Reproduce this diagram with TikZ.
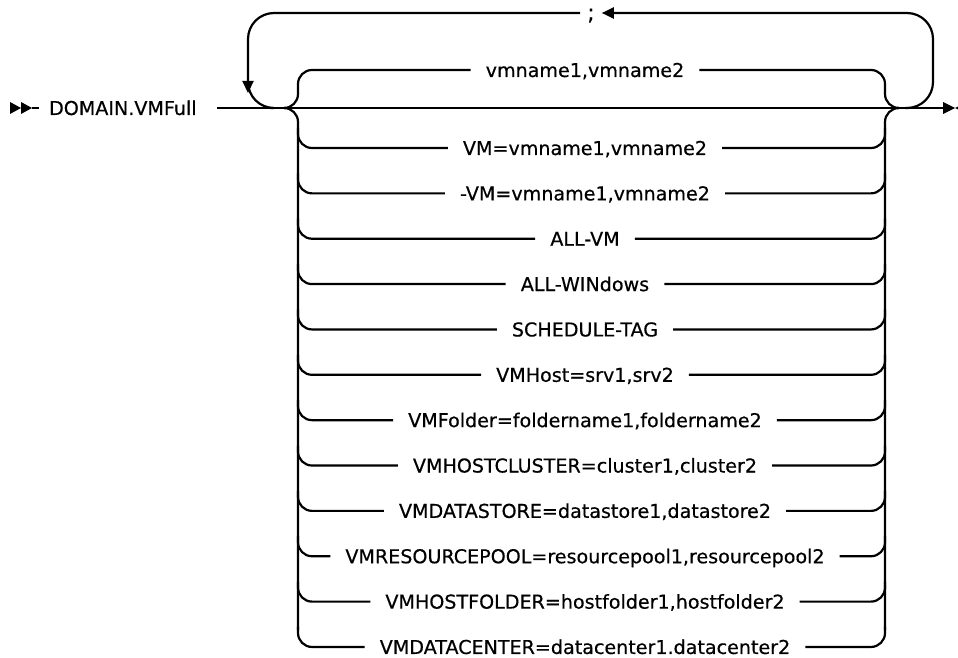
\documentclass[tikz,border=0pt]{standalone}
\usepackage{fontspec}
\setmainfont{DejaVu Sans}[FakeBold=0.5]
\usetikzlibrary{arrows.meta, positioning, calc}
\tikzset{
  rail/.style={line width=1.1pt, rounded corners=7pt},
  kw/.style={inner xsep=7pt, inner ysep=0pt, text height=7pt, text depth=0pt,
    font=\fontsize{9.55}{11}\selectfont},
  tip/.style={-{Triangle[length=6pt, width=5.5pt]}}
}

\begin{document}
\begin{tikzpicture}[x=0.5pt, y=-0.5pt, line width=1.1pt]

    \useasboundingbox (0,0) rectangle (958,658);
    \clip (0,0) rectangle (958,658);

    % Start of the statement
    \fill (10,102) -- (21,108) -- (10,114) -- cycle;
    \fill (21,102) -- (32,108) -- (21,114) -- cycle;
    \draw (32,108) -- (39,108);
    \node[kw, anchor=west, inner xsep=0pt] (cmd) at (48,108) {DOMAIN.VMFull};

    % Main line and end of the statement
    \coordinate (mainstart) at (217,108);
    \coordinate (mainend) at (944,108);
    \draw (mainstart) -- (mainend);
    \fill (943,102) -- (955,108) -- (943,114) -- cycle;
    \fill (967,102) -- (955,108) -- (967,114) -- cycle;

    % Repeat loop with separator
    \node[kw, inner xsep=3pt, font=\fontsize{11}{12}\selectfont] (semi) at (591,13) {;};
    \draw[rail, rounded corners=13pt, tip] (905,108) -| (933,13) -- (semi.east);
    \draw[rail, rounded corners=13pt] (semi.west) -| (248,108) -- (270,108);
    \draw[tip] (248,60) -- (248,93);

    % Choices
    \node[kw] (c0) at (585,70) {vmname1,vmname2};
    \draw[rail] (286,108) -| (298,70) -- (c0.west);
    \draw[rail] (c0.east) -| (885,108) -- (897,108);
    \draw[rail] (286,108) -| (298,630);
    \draw[rail] (897,108) -| (885,630);

    \foreach \txt [count=\i] in {{VM=vmname1,vmname2}, {-VM=vmname1,vmname2},
        ALL-VM, ALL-WINdows, SCHEDULE-TAG, {VMHost=srv1,srv2},
        {VMFolder=foldername1,foldername2}, {VMHOSTCLUSTER=cluster1,cluster2},
        {VMDATASTORE=datastore1,datastore2}, {VMRESOURCEPOOL=resourcepool1,resourcepool2},
        {VMHOSTFOLDER=hostfolder1,hostfolder2}, {VMDATACENTER=datacenter1.datacenter2}} {
      \pgfmathsetmacro{\y}{148+45.36*(\i-1)}
      \node[kw] (c\i) at (585,\y) {\txt};
      \draw[rail] (298,\y-20) |- (c\i.west);
      \draw[rail] (c\i.east) -| (885,\y-20);
    }

\end{tikzpicture}
\end{document}
